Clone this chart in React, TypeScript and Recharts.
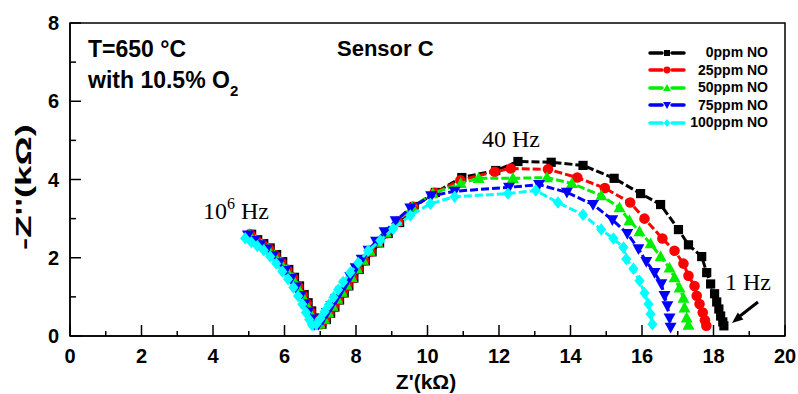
import React from "react";
import { ScatterChart, Scatter, XAxis, YAxis, ReferenceArea, Legend } from "recharts";

// Z' and -Z'' in kOhm (high -> low frequency)
const ppm0: [number, number][] = [
  [5.08, 2.6], [5.25, 2.46], [5.42, 2.36], [5.6, 2.25], [5.78, 2.08], [5.95, 1.9], [6.12, 1.7],
  [6.28, 1.5], [6.42, 1.28], [6.55, 1.06], [6.66, 0.85], [6.76, 0.64], [6.85, 0.46], [6.93, 0.3],
  [7.05, 0.3], [7.17, 0.42], [7.29, 0.58], [7.41, 0.74], [7.54, 0.92], [7.67, 1.1], [7.8, 1.28],
  [7.94, 1.48], [8.09, 1.7], [8.26, 1.92], [8.45, 2.15], [8.66, 2.38], [8.9, 2.62], [9.22, 2.9],
  [9.63, 3.31], [10.22, 3.67], [10.96, 4.05], [11.91, 4.23], [12.53, 4.46], [13.46, 4.44],
  [14.35, 4.36], [15.22, 4.03], [15.96, 3.64], [16.52, 3.36], [17.02, 2.72], [17.3, 2.33],
  [17.67, 2.03], [17.81, 1.62], [17.92, 1.33], [18.03, 1.08], [18.09, 0.87], [18.15, 0.69],
  [18.2, 0.51], [18.26, 0.36], [18.29, 0.26],
];
const ppm25: [number, number][] = [
  [5.04, 2.6], [5.21, 2.45], [5.38, 2.35], [5.56, 2.24], [5.74, 2.07], [5.91, 1.89], [6.08, 1.69],
  [6.24, 1.49], [6.38, 1.27], [6.51, 1.05], [6.62, 0.84], [6.72, 0.63], [6.81, 0.45], [6.89, 0.3],
  [7.01, 0.3], [7.13, 0.42], [7.25, 0.58], [7.37, 0.75], [7.5, 0.93], [7.63, 1.11], [7.76, 1.29],
  [7.9, 1.49], [8.05, 1.71], [8.22, 1.93], [8.41, 2.16], [8.62, 2.39], [8.86, 2.63], [9.18, 2.92],
  [9.6, 3.3], [10.2, 3.66], [10.92, 3.98], [11.88, 4.2], [12.33, 4.28], [13.37, 4.26],
  [14.19, 4.05], [14.96, 3.78], [15.67, 3.41], [16.07, 3.0], [16.57, 2.49], [16.91, 2.18],
  [17.16, 1.85], [17.3, 1.54], [17.47, 1.28], [17.53, 1.03], [17.61, 0.82], [17.7, 0.6],
  [17.76, 0.4], [17.8, 0.26],
];
const ppm50: [number, number][] = [
  [5.02, 2.6], [5.19, 2.45], [5.36, 2.34], [5.54, 2.23], [5.72, 2.06], [5.89, 1.88], [6.06, 1.68],
  [6.22, 1.48], [6.36, 1.26], [6.49, 1.04], [6.6, 0.83], [6.7, 0.62], [6.79, 0.44], [6.87, 0.3],
  [6.99, 0.31], [7.11, 0.43], [7.23, 0.59], [7.35, 0.76], [7.48, 0.94], [7.61, 1.12], [7.74, 1.3],
  [7.88, 1.5], [8.03, 1.72], [8.2, 1.94], [8.39, 2.17], [8.6, 2.4], [8.84, 2.64], [9.15, 2.93],
  [9.57, 3.3], [10.15, 3.64], [10.93, 3.9], [11.43, 4.03], [12.39, 4.03], [13.34, 4.05],
  [14.04, 3.9], [14.86, 3.59], [15.37, 3.28], [15.65, 2.95], [15.93, 2.67], [16.24, 2.36],
  [16.52, 2.03], [16.77, 1.74], [16.91, 1.49], [17.05, 1.23], [17.16, 0.97], [17.19, 0.72],
  [17.25, 0.46], [17.3, 0.28],
];
const ppm75: [number, number][] = [
  [4.98, 2.58], [5.15, 2.44], [5.32, 2.33], [5.5, 2.22], [5.68, 2.05], [5.85, 1.87], [6.02, 1.67],
  [6.18, 1.47], [6.32, 1.25], [6.45, 1.03], [6.56, 0.82], [6.66, 0.61], [6.75, 0.43], [6.83, 0.29],
  [6.95, 0.3], [7.07, 0.43], [7.19, 0.6], [7.31, 0.77], [7.44, 0.95], [7.57, 1.14], [7.7, 1.32],
  [7.84, 1.52], [7.99, 1.74], [8.16, 1.96], [8.35, 2.19], [8.56, 2.42], [8.8, 2.66], [9.11, 2.94],
  [9.52, 3.27], [10.1, 3.58], [10.76, 3.7], [12.28, 3.8], [13.12, 3.87], [13.9, 3.67],
  [14.63, 3.36], [15.17, 2.97], [15.59, 2.62], [15.9, 2.23], [16.12, 1.9], [16.35, 1.62],
  [16.54, 1.33], [16.63, 1.03], [16.71, 0.77], [16.77, 0.46], [16.8, 0.22],
];
const ppm100: [number, number][] = [
  [4.9, 2.5], [5.07, 2.4], [5.24, 2.3], [5.42, 2.19], [5.6, 2.03], [5.77, 1.85], [5.94, 1.65],
  [6.1, 1.45], [6.25, 1.24], [6.38, 1.02], [6.5, 0.81], [6.6, 0.6], [6.69, 0.42], [6.77, 0.28],
  [6.89, 0.3], [7.0, 0.44], [7.12, 0.62], [7.24, 0.8], [7.37, 0.99], [7.5, 1.18], [7.64, 1.38],
  [7.84, 1.62], [8.06, 1.87], [8.34, 2.18], [8.68, 2.44], [9.04, 2.74], [9.52, 3.08],
  [10.08, 3.38], [10.76, 3.56], [12.25, 3.64], [13.03, 3.72], [13.65, 3.41], [14.35, 3.1],
  [14.86, 2.72], [15.2, 2.49], [15.48, 2.26], [15.56, 1.97], [15.76, 1.72], [15.93, 1.41],
  [16.07, 1.1], [16.18, 0.82], [16.24, 0.56], [16.29, 0.3],
];

const seriesData = [ppm0, ppm25, ppm50, ppm75, ppm100];
const seriesNames = ["0ppm NO", "25ppm NO", "50ppm NO", "75ppm NO", "100ppm NO"];
const seriesColors = ["#000000", "#ff0000", "#00ee00", "#0000ff", "#00ffff"];
const seriesMarkers = ["square", "circle", "triangle", "triangleDown", "diamond"];

const xTicks = [0, 1, 2, 3, 4, 5, 6, 7, 8, 9, 10, 11, 12, 13, 14, 15, 16, 17, 18, 19, 20];
const yTicks = [0, 1, 2, 3, 4, 5, 6, 7, 8];

const SANS = '"Liberation Sans", Arial, sans-serif';
const SERIF = '"Liberation Serif", "Times New Roman", serif';

function Marker({ kind, cx, cy, color, s }: { kind: string; cx: number; cy: number; color: string; s: number }) {
  switch (kind) {
    case "square":
      return <rect x={cx - s} y={cy - s} width={2 * s} height={2 * s} fill={color} />;
    case "circle":
      return <circle cx={cx} cy={cy} r={s * 1.15} fill={color} />;
    case "triangle":
      return (
        <polygon
          points={`${cx},${cy - s * 1.35} ${cx - s * 1.3},${cy + s} ${cx + s * 1.3},${cy + s}`}
          fill={color}
        />
      );
    case "triangleDown":
      return (
        <polygon
          points={`${cx},${cy + s * 1.35} ${cx - s * 1.3},${cy - s} ${cx + s * 1.3},${cy - s}`}
          fill={color}
        />
      );
    default:
      return (
        <polygon
          points={`${cx},${cy - s * 1.35} ${cx + s * 1.1},${cy} ${cx},${cy + s * 1.35} ${cx - s * 1.1},${cy}`}
          fill={color}
        />
      );
  }
}

// ticks point inward, labels only on even values
const XTick = (props: any) => {
  const { x, y, payload } = props;
  const v = payload.value;
  const major = v % 2 === 0;
  return (
    <g>
      <line x1={x} x2={x} y1={y} y2={y - (major ? 11 : 5)} stroke="#000" strokeWidth={1.5} />
      {major && (
        <text x={x} y={y + 27} textAnchor="middle" fontFamily={SANS} fontWeight="bold" fontSize={20} fill="#000">
          {v}
        </text>
      )}
    </g>
  );
};

const YTick = (props: any) => {
  const { x, y, payload } = props;
  const v = payload.value;
  const major = v % 2 === 0;
  return (
    <g>
      <line x1={x} x2={x + (major ? 11 : 6)} y1={y} y2={y} stroke="#000" strokeWidth={1.5} />
      {major && (
        <text x={x - 11} y={y} dy="0.36em" textAnchor="end" fontFamily={SANS} fontWeight="bold" fontSize={20} fill="#000">
          {v}
        </text>
      )}
    </g>
  );
};

const renderLegend = () => (
  <div style={{ width: 120, fontFamily: SANS, fontWeight: "bold", fontSize: 14, color: "#000" }}>
    {seriesNames.map((name, i) => (
      <div key={name} style={{ display: "flex", alignItems: "center", height: 17.5 }}>
        <svg width={38} height={14}>
          <line x1={2} x2={14} y1={7} y2={7} stroke={seriesColors[i]} strokeWidth={3.5} strokeLinecap="round" />
          <line x1={24} x2={36} y1={7} y2={7} stroke={seriesColors[i]} strokeWidth={3.5} strokeLinecap="round" />
          <Marker kind={seriesMarkers[i]} cx={19} cy={7} color={seriesColors[i]} s={3} />
        </svg>
        <span style={{ flex: 1, textAlign: "right", lineHeight: "17.5px" }}>{name}</span>
      </div>
    ))}
  </div>
);

export default function App() {
  return (
    <div style={{ position: "absolute", left: 0, top: 0, width: 798, height: 394, background: "#fff" }}>
      <ScatterChart width={798} height={394} margin={{ top: 23, right: 13, bottom: 0, left: 0 }}>
        <XAxis
          type="number"
          dataKey="x"
          domain={[0, 20]}
          ticks={xTicks}
          interval={0}
          height={58}
          tickSize={0}
          tickMargin={0}
          tickLine={false}
          tick={<XTick />}
          axisLine={{ stroke: "#000", strokeWidth: 1.5 }}
        />
        <YAxis
          type="number"
          dataKey="y"
          domain={[0, 8]}
          ticks={yTicks}
          interval={0}
          width={70}
          tickSize={0}
          tickMargin={0}
          tickLine={false}
          tick={<YTick />}
          axisLine={{ stroke: "#000", strokeWidth: 1.5 }}
        />
        <ReferenceArea x1={0} x2={20} y1={0} y2={8} fill="none" stroke="#000" strokeWidth={1.5} />
        <Legend
          content={renderLegend}
          layout="vertical"
          align="center"
          verticalAlign="middle"
          wrapperStyle={{ position: "absolute", left: 648, top: 44, width: 120 }}
        />
        {seriesData.map((d, i) => (
          <Scatter
            key={seriesNames[i]}
            name={seriesNames[i]}
            data={d.map(([x, y]) => ({ x, y }))}
            fill={seriesColors[i]}
            line={{ stroke: seriesColors[i], strokeWidth: 3, strokeDasharray: "8 3" }}
            lineType="joint"
            shape={(p: any) => <Marker kind={seriesMarkers[i]} cx={p.cx} cy={p.cy} color={seriesColors[i]} s={4.6} />}
            isAnimationActive={false}
          />
        ))}
      </ScatterChart>

      <svg width={798} height={394} style={{ position: "absolute", left: 0, top: 0, pointerEvents: "none" }}>
        <g fontFamily={SANS} fontWeight="bold" fill="#000">
          <text x={88} y={57} fontSize={23}>T=650 °C</text>
          <text x={88} y={88} fontSize={23}>
            with 10.5% O<tspan fontSize={15} dy={8}>2</tspan>
          </text>
          <text x={337} y={56} fontSize={22}>Sensor C</text>
          <text
            transform="translate(23,187) rotate(-90)"
            textAnchor="middle"
            dy="0.36em"
            fontSize={22}
            textLength={126}
            lengthAdjust="spacingAndGlyphs"
          >
            -Z''(kΩ)
          </text>
          <text x={426} y={389} textAnchor="middle" fontSize={21}>Z'(kΩ)</text>
        </g>
        <g fontFamily={SERIF} fill="#000">
          <text x={482} y={147} fontSize={24}>40 Hz</text>
          <text x={203} y={219} fontSize={24}>
            10<tspan fontSize={16} dy={-10}>6</tspan>
            <tspan dy={10}> Hz</tspan>
          </text>
          <text x={725} y={290} fontSize={24}>1 Hz</text>
        </g>
        <line x1={758} y1={302} x2={740} y2={316} stroke="#000" strokeWidth={3} />
        <polygon points="732,323 743.4,319.6 737.8,312.6" fill="#000" />
      </svg>
    </div>
  );
}
